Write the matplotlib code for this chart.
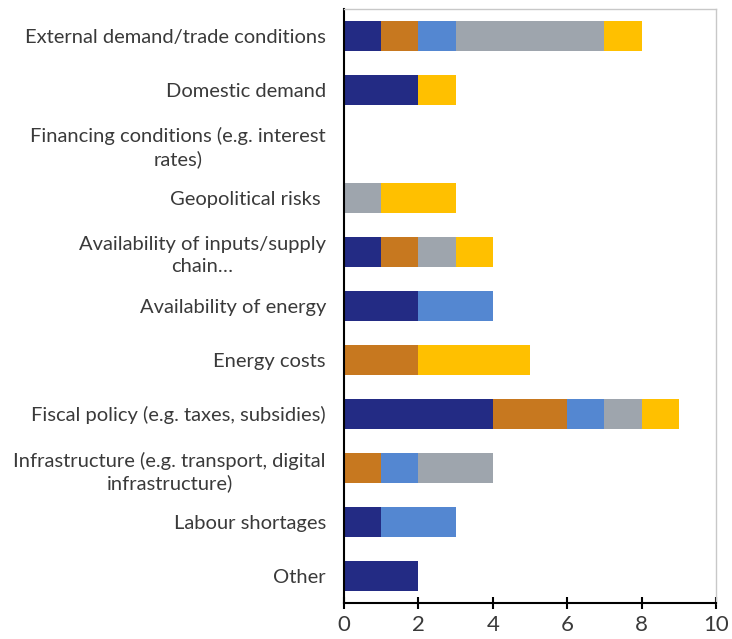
import numpy as np
import matplotlib.pyplot as plt

categories = [
    "External demand/trade conditions",
    "Domestic demand",
    "Financing conditions (e.g. interest\nrates)",
    "Geopolitical risks ",
    "Availability of inputs/supply\nchain\u2026",
    "Availability of energy",
    "Energy costs",
    "Fiscal policy (e.g. taxes, subsidies)",
    "Infrastructure (e.g. transport, digital\ninfrastructure)",
    "Labour shortages",
    "Other",
]
s1 = [1, 2, 0, 0, 1, 2, 0, 4, 0, 1, 2]
s2 = [1, 0, 0, 0, 1, 0, 2, 2, 1, 0, 0]
s3 = [1, 0, 0, 0, 0, 2, 0, 1, 1, 2, 0]
s4 = [4, 0, 0, 1, 1, 0, 0, 1, 2, 0, 0]
s5 = [1, 1, 0, 2, 1, 0, 3, 1, 0, 0, 0]
colors = ["#232B84", "#C7781F", "#5487D1", "#9EA5AD", "#FFC000"]

plt.rcParams['font.family'] = ['Lato', 'DejaVu Sans']

fig = plt.figure(figsize=(7.32, 6.39), dpi=100)
ax = fig.add_axes([0.47, 0.0563, 0.508, 0.93])

y = np.arange(len(categories))
left = np.zeros(len(categories))
for vals, c in zip([s1, s2, s3, s4, s5], colors):
    ax.barh(y, vals, left=left, height=0.56, color=c)
    left += np.array(vals)

ax.set_ylim(len(categories) - 0.5, -0.5)
ax.set_xlim(0, 10)
ax.set_xticks(range(0, 11, 2))
ax.set_yticks(y)
ax.set_yticklabels(categories, fontsize=14.5, color="#3a3a3a",
                   multialignment="center", linespacing=1.3)
ax.tick_params(axis='y', length=0, pad=13)
ax.tick_params(axis='x', direction='inout', length=9, width=1.5, labelsize=16,
               labelcolor="#3a3a3a", pad=4)

for s in ['top', 'right']:
    ax.spines[s].set_color("#C8C8C8")
    ax.spines[s].set_linewidth(1)
for s in ['left', 'bottom']:
    ax.spines[s].set_color("black")
    ax.spines[s].set_linewidth(1.5)

fig.savefig("out.png", dpi=100)
